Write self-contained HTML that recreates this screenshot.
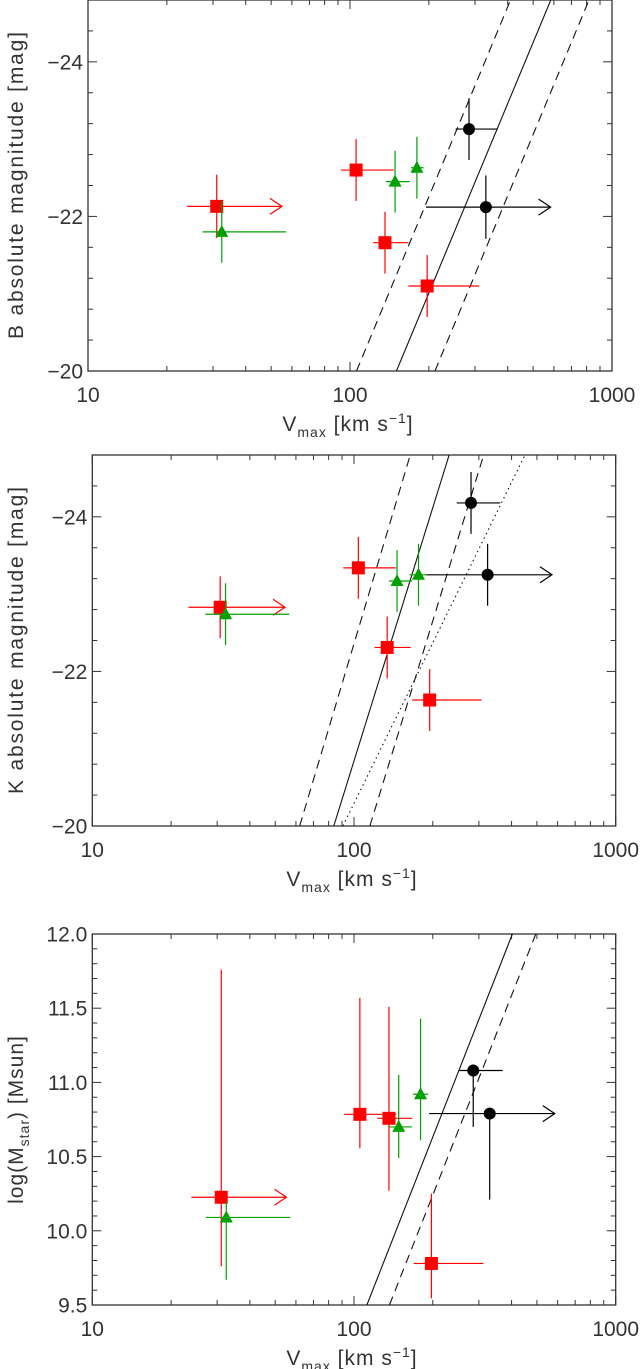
<!DOCTYPE html>
<html><head><meta charset="utf-8"><style>
html,body{margin:0;padding:0;background:#fff;}
svg{display:block;font-family:"Liberation Sans",sans-serif;}
text{fill:#333;}
</style></head><body>
<svg id="chart" width="641" height="1369" viewBox="0 0 641 1369" xmlns="http://www.w3.org/2000/svg"></svg>
<script>
// ---- Panel 1: B band ----
const bRedV=[31,105.5,136,197];
const bRedM=[-22.13,-22.6,-21.66,-21.1];
const bRedVlo=[23.9,92.4,122.6,167];
const bRedVhi=[55,147,167,311];
const bRedErr=[0.41,0.4,0.4,0.4];
const bRedLim=[true,false,false,false];
const bGreenV=[32.4,148.6,180];
const bGreenM=[-21.8,-22.45,-22.63];
const bGreenVlo=[27.4,137,171];
const bGreenVhi=[57,169,191];
const bGreenErr=[0.4,0.4,0.4];
const bBlackV=[284.6,330];
const bBlackM=[-23.13,-22.12];
const bBlackVlo=[253,195];
const bBlackVhi=[366,583];
const bBlackErr=[0.4,0.41];
const bBlackLim=[false,true];
const bLineSolid=[[150.4,-20],[584,-24.8]];
const bLineDash1=[[105.9,-20],[410,-24.8]];
const bLineDash2=[[211,-20],[817,-24.8]];
// ---- Panel 2: K band ----
const kRedV=[30.8,103.9,133.9,194.6];
const kRedM=[-22.83,-23.34,-22.31,-21.63];
const kRedVlo=[23.3,91,120,167];
const kRedVhi=[54.5,144.5,164.7,307];
const kRedErr=[0.4,0.4,0.4,0.4];
const kRedLim=[true,false,false,false];
const kGreenV=[32.3,146,176.4];
const kGreenM=[-22.74,-23.17,-23.25];
const kGreenVlo=[27,136,163];
const kGreenVhi=[56.6,166.6,189];
const kGreenErr=[0.4,0.4,0.4];
const kBlackV=[280,324];
const kBlackM=[-24.18,-23.25];
const kBlackVlo=[247,189];
const kBlackVhi=[362,571];
const kBlackErr=[0.4,0.4];
const kBlackLim=[false,true];
const kLineSolid=[[83.7,-20],[231,-24.8]];
const kLineDash1=[[62,-20],[164,-24.8]];
const kLineDash2=[[115,-20],[313,-24.8]];
const kLineDot=[[90.7,-20],[450,-24.8]];
// ---- Panel 3: stellar mass ----
const mRedV=[31.1,105.3,136,197.6];
const mRedY=[10.226,10.785,10.758,9.78];
const mRedVlo=[23.9,91.7,122.6,169];
const mRedVhi=[55.2,145,167,312];
const mRedYlo=[9.76,10.556,10.27,9.545];
const mRedYhi=[11.76,11.57,11.51,10.25];
const mRedLim=[true,false,false,false];
const mGreenV=[32.5,148.2,179.6];
const mGreenY=[10.09,10.70,10.92];
const mGreenVlo=[27.2,136.6,168];
const mGreenVhi=[57,166.6,192];
const mGreenYlo=[9.67,10.49,10.61];
const mGreenYhi=[10.2,11.05,11.43];
const mBlackV=[285.5,330];
const mBlackY=[11.08,10.79];
const mBlackVlo=[253,193.5];
const mBlackVhi=[370,585];
const mBlackYlo=[10.70,10.21];
const mBlackYhi=[11.12,10.81];
const mBlackLim=[false,true];
const mLineSolid=[[112,9.5],[403,12.0]];
const mLineDash=[[136.6,9.5],[495,12.0]];

const NS="http://www.w3.org/2000/svg";
const svg=document.getElementById('chart');
function mk(tag,attrs,parent){const e=document.createElementNS(NS,tag);for(const k in attrs)e.setAttribute(k,attrs[k]);(parent||svg).appendChild(e);return e;}

function panel(cfg){
  const g=mk('g',{});
  
  
  const L=cfg.x0,R=cfg.x1,T=cfg.y0,B=cfg.y1;
  const xs=v=>L+(R-L)/2*Math.log10(v/10);
  const ys=y=>B-(y-cfg.ymin)/(cfg.ymax-cfg.ymin)*(B-T);
  const frame=mk('rect',{x:L,y:T,width:R-L,height:B-T,fill:'none',stroke:'#333','stroke-width':1.3},g);
  
  
  for(let d=10;d<=1000;d*=10){for(let m=1;m<=9;m++){const v=d*m;if(v>1000)break;const x=xs(v);const len=(m===1)?9:5;
    mk('line',{x1:x,y1:B,x2:x,y2:B-len,stroke:'#333','stroke-width':1},g);
    mk('line',{x1:x,y1:T,x2:x,y2:T+len,stroke:'#333','stroke-width':1},g);}
    const t=mk('text',{x:xs(d),y:B+31,'font-size':21,'text-anchor':'middle',fill:'#444'},g);t.textContent=String(d);
    
    
  }
  const n=Math.round((cfg.ymax-cfg.ymin)/cfg.minor);
  for(let i=0;i<=n;i++){const yv=cfg.ymin+i*cfg.minor;const y=ys(yv);
    const major=cfg.majors.some(m=>Math.abs(m-yv)<1e-6);const len=major?9:5;
    mk('line',{x1:L,y1:y,x2:L+len,y2:y,stroke:'#333','stroke-width':1},g);
    mk('line',{x1:R,y1:y,x2:R-len,y2:y,stroke:'#333','stroke-width':1},g);}
  cfg.majors.forEach((m,i)=>{const t=mk('text',{x:L-5,y:ys(m)+7.5,'font-size':21,'text-anchor':'end',fill:'#444'},g);t.textContent=cfg.majorLabels[i];
    
    });
  const xl=mk('text',{x:(L+R)/2-2,y:B+60,'font-size':21,'text-anchor':'middle','letter-spacing':1,fill:'#444'},g);
  xl.innerHTML='V<tspan font-size="14" dy="6">max</tspan><tspan dy="-6"> [km  s</tspan><tspan font-size="14" dy="-8">−1</tspan><tspan dy="8">]</tspan>';
  
  
  const ya={x:0,y:0,'font-size':21,'text-anchor':'middle',fill:'#444',transform:`translate(${cfg.ylx},${(T+B)/2}) rotate(-90)`};
  if(cfg.ylen){ya.textLength=cfg.ylen;ya.lengthAdjust='spacing';} else {ya['letter-spacing']=1;}
  const yl=mk('text',ya,g);
  yl.innerHTML=cfg.ylabel;
  
  
  const cid='c'+cfg.name;
  const cp=mk('clipPath',{id:cid},g);mk('rect',{x:L,y:T,width:R-L,height:B-T},cp);
  const lg=mk('g',{'clip-path':`url(#${cid})`},g);
  cfg.lines.forEach(ln=>{const p=ln.pts;
    const l=mk('line',{x1:xs(p[0][0]),y1:ys(p[0][1]),x2:xs(p[1][0]),y2:ys(p[1][1]),stroke:'#111','stroke-width':1.1,'stroke-dasharray':ln.dash||'none'},lg);
    
    });
  cfg.series.forEach(s=>{
    for(let i=0;i<s.v.length;i++){
      const sg=mk('g',{},g);
      
      
      const x=xs(s.v[i]),y=ys(s.y[i]);
      const xlo=xs(s.vlo[i]),xhi=xs(s.vhi[i]),ylo=ys(s.ylo[i]),yhi=ys(s.yhi[i]);
      mk('line',{x1:xlo,y1:y,x2:xhi,y2:y,stroke:s.c,'stroke-width':1.2},sg);
      mk('line',{x1:x,y1:ylo,x2:x,y2:yhi,stroke:s.c,'stroke-width':1.2},sg);
      if(s.lim&&s.lim[i]){mk('polyline',{points:`${xhi-12},${y-8} ${xhi},${y} ${xhi-12},${y+8}`,fill:'none',stroke:s.c,'stroke-width':1.2},sg);}
      if(s.shape==='sq')mk('rect',{x:x-6.5,y:y-6.5,width:13,height:13,fill:s.c},sg);
      else if(s.shape==='tri')mk('polygon',{points:`${x},${y-7} ${x-6.5},${y+5} ${x+6.5},${y+5}`,fill:s.c},sg);
      else mk('circle',{cx:x,cy:y,r:6,fill:s.c},sg);
    }
  });
}
const sym=(v,e,s)=>v.map((m,i)=>m+s*e[i]);
panel({name:'panel-b-band',x0:88,x1:612,y0:0,y1:371,ymin:-20,ymax:-24.8,minor:-0.4,majors:[-24,-22,-20],majorLabels:['−24','−22','−20'],ylx:23,ylen:307,
  ylabel:'B absolute magnitude [mag]',
  lines:[{pts:bLineSolid,name:'fit-line'},{pts:bLineDash1,dash:'9 6',name:'fit-lower-dashed'},{pts:bLineDash2,dash:'9 6',name:'fit-upper-dashed'}],
  series:[
   {name:'red-square',c:'#ff0000',shape:'sq',v:bRedV,y:bRedM,vlo:bRedVlo,vhi:bRedVhi,ylo:sym(bRedM,bRedErr,1),yhi:sym(bRedM,bRedErr,-1),lim:bRedLim},
   {name:'green-triangle',c:'#00a000',shape:'tri',v:bGreenV,y:bGreenM,vlo:bGreenVlo,vhi:bGreenVhi,ylo:sym(bGreenM,bGreenErr,1),yhi:sym(bGreenM,bGreenErr,-1)},
   {name:'black-circle',c:'#000',shape:'circ',v:bBlackV,y:bBlackM,vlo:bBlackVlo,vhi:bBlackVhi,ylo:sym(bBlackM,bBlackErr,1),yhi:sym(bBlackM,bBlackErr,-1),lim:bBlackLim}]});
panel({name:'panel-k-band',x0:92.3,x1:615.7,y0:455,y1:826,ymin:-20,ymax:-24.8,minor:-0.4,majors:[-24,-22,-20],majorLabels:['−24','−22','−20'],ylx:23,ylen:307,
  ylabel:'K absolute magnitude [mag]',
  lines:[{pts:kLineSolid,name:'fit-line'},{pts:kLineDash1,dash:'9 6',name:'fit-lower-dashed'},{pts:kLineDash2,dash:'9 6',name:'fit-upper-dashed'},{pts:kLineDot,dash:'1.5 3.5',name:'reference-dotted'}],
  series:[
   {name:'red-square',c:'#ff0000',shape:'sq',v:kRedV,y:kRedM,vlo:kRedVlo,vhi:kRedVhi,ylo:sym(kRedM,kRedErr,1),yhi:sym(kRedM,kRedErr,-1),lim:kRedLim},
   {name:'green-triangle',c:'#00a000',shape:'tri',v:kGreenV,y:kGreenM,vlo:kGreenVlo,vhi:kGreenVhi,ylo:sym(kGreenM,kGreenErr,1),yhi:sym(kGreenM,kGreenErr,-1)},
   {name:'black-circle',c:'#000',shape:'circ',v:kBlackV,y:kBlackM,vlo:kBlackVlo,vhi:kBlackVhi,ylo:sym(kBlackM,kBlackErr,1),yhi:sym(kBlackM,kBlackErr,-1),lim:kBlackLim}]});
panel({name:'panel-stellar-mass',x0:92.3,x1:615.7,y0:934,y1:1305,ymin:9.5,ymax:12.0,minor:0.1,majors:[9.5,10,10.5,11,11.5,12],majorLabels:['9.5','10.0','10.5','11.0','11.5','12.0'],ylx:23,
  ylabel:'log(M<tspan font-size="14" dy="6">star</tspan><tspan dy="-6">)  [Msun]</tspan>',
  lines:[{pts:mLineSolid,name:'fit-line'},{pts:mLineDash,dash:'9 6',name:'fit-dashed'}],
  series:[
   {name:'red-square',c:'#ff0000',shape:'sq',v:mRedV,y:mRedY,vlo:mRedVlo,vhi:mRedVhi,ylo:mRedYlo,yhi:mRedYhi,lim:mRedLim},
   {name:'green-triangle',c:'#00a000',shape:'tri',v:mGreenV,y:mGreenY,vlo:mGreenVlo,vhi:mGreenVhi,ylo:mGreenYlo,yhi:mGreenYhi},
   {name:'black-circle',c:'#000',shape:'circ',v:mBlackV,y:mBlackY,vlo:mBlackVlo,vhi:mBlackVhi,ylo:mBlackYlo,yhi:mBlackYhi,lim:mBlackLim}]});
</script>
</body></html>
